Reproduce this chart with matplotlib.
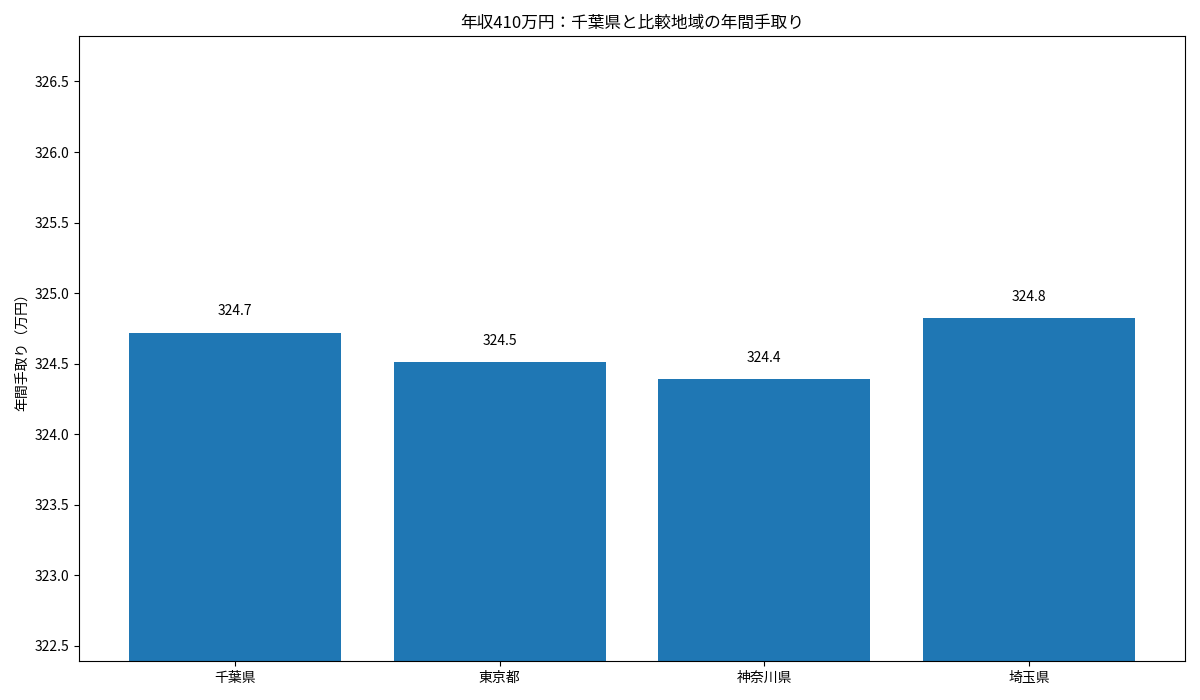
import matplotlib
matplotlib.use("Agg")
import matplotlib.pyplot as plt

plt.rcParams['font.family'] = ['Noto Sans CJK JP', 'DejaVu Sans']

regions = ['千葉県', '東京都', '神奈川県', '埼玉県']
takehome = [324.72, 324.51, 324.39, 324.82]

fig, ax = plt.subplots(figsize=(12, 7), dpi=100)
bars = ax.bar(regions, takehome, color='#1f77b4')

for b, v in zip(bars, takehome):
    ax.text(b.get_x() + b.get_width() / 2, v + 0.1, f"{v:.1f}",
            ha='center', va='bottom')

ax.set_ylim(min(takehome) - 2, max(takehome) + 2)
ax.set_ylabel('年間手取り（万円）')
ax.set_title('年収410万円：千葉県と比較地域の年間手取り')

plt.tight_layout()
plt.savefig('out.png')
